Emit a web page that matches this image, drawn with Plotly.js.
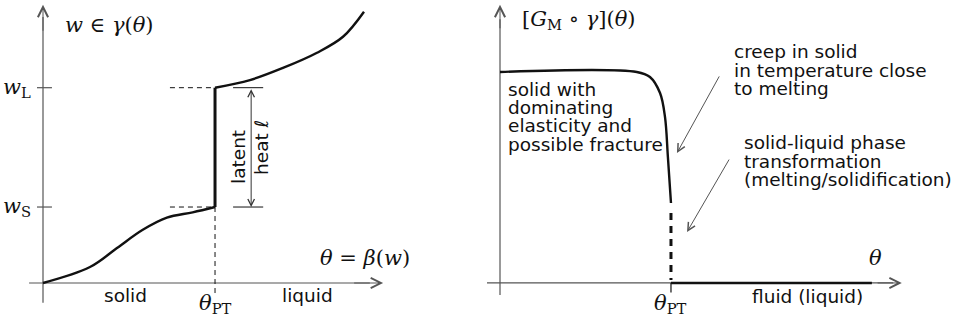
<!DOCTYPE html>
<html>
<head>
<meta charset="utf-8">
<script src="https://cdn.plot.ly/plotly-3.0.1.min.js"></script>
<style>
  html, body { margin: 0; padding: 0; background: #fff; }
  #plot { width: 963px; height: 322px; }
</style>
</head>
<body>
<div id="plot"></div>
<script>
// left panel: enthalpy w against temperature theta (theta_PT = 1, w_S = 1)
const thetaPT = 1;
const wS = 1;
const wL = 2.57;
const solidTheta = [0, 0.273, 0.43, 0.58, 0.72, 0.87, 1];
const solidW = [0, 0.21, 0.46, 0.70, 0.86, 0.93, 1];
const liquidTheta = [1, 1.203, 1.395, 1.593, 1.744, 1.866];
const liquidW = [2.57, 2.67, 2.83, 3.03, 3.24, 3.57];

// right panel: shear modulus G_M against theta (plateau = 1)
const gTheta = [0, 0.80, 0.877, 0.936, 0.965, 0.982, 1];
const gValue = [1, 1, 0.976, 0.90, 0.787, 0.597, 0.379];
const fluidTheta = [1, 2.175];
const fluidValue = [0, 0];
const transitionDash = [0.332, 0.014];

const leftLabels = { solid: "solid", liquid: "liquid" };
// each note: first line position, then its lines
const rightNotes = [
    { x: 0.035, y: 0.919, lines: ["solid with", "dominating", "elasticity and", "possible fracture"] },
    { x: 1.358, y: 1.095, lines: ["creep in solid", "in temperature close", "to melting"] },
    { x: 1.416, y: 0.664, lines: ["solid-liquid phase", "transformation", "(melting/solidification)"] }
];
const noteStep = 0.0875; // line spacing in y2 units (about 18.5px)

const ink = "#111";
const axisGray = "#555";
const sans = "DejaVu Sans, sans-serif";
const serif = "DejaVu Serif, serif";

function line(x, y, xa, ya, width, color, dash, shape) {
    return {
        x: x, y: y, xaxis: xa, yaxis: ya,
        type: "scatter", mode: "lines",
        line: { color: color, width: width, dash: dash || "solid", shape: shape || "linear", smoothing: 1 },
        hoverinfo: "skip", showlegend: false
    };
}

const traces = [
    // left axes
    line([0, 0], [-0.26, 3.5], "x", "y", 1.2, axisGray),
    line([-0.081, 1.9], [0, 0], "x", "y", 1.2, axisGray),
    // y ticks
    line([-0.035, 0.052], [wL, wL], "x", "y", 1.2, axisGray),
    line([-0.035, 0.052], [wS, wS], "x", "y", 1.2, axisGray),
    // curve
    line(solidTheta, solidW, "x", "y", 2.4, ink, "solid", "spline"),
    line([thetaPT, thetaPT], [wS, wL], "x", "y", 3, ink),
    line(liquidTheta, liquidW, "x", "y", 2.4, ink, "solid", "spline"),
    // dashed guides
    line([0.738, thetaPT], [wL, wL], "x", "y", 1, ink, "5px,4px"),
    line([0.738, thetaPT], [wS, wS], "x", "y", 1, ink, "5px,4px"),
    line([thetaPT, thetaPT], [wS, -0.16], "x", "y", 1, ink, "5px,4px"),
    // latent heat bracket
    line([1.105, 1.28], [wL, wL], "x", "y", 1, ink),
    line([1.105, 1.28], [wS, wS], "x", "y", 1, ink),

    // right axes
    line([0, 0], [-0.057, 1.25], "x2", "y2", 1.2, axisGray),
    line([-0.076, 2.3], [0, 0], "x2", "y2", 1.2, axisGray),
    line([thetaPT, thetaPT], [0, -0.045], "x2", "y2", 1.2, ink),
    // curve
    line(gTheta, gValue, "x2", "y2", 2.4, ink, "solid", "spline"),
    line([thetaPT, thetaPT], transitionDash, "x2", "y2", 3, ink, "7px,6px"),
    line(fluidTheta, fluidValue, "x2", "y2", 2.6, ink)
];

function arrow(xa, ya, x, y, ax, ay, size, color, side) {
    return {
        xref: xa, yref: ya, axref: xa, ayref: ya,
        x: x, y: y, ax: ax, ay: ay, text: "",
        showarrow: true, arrowhead: 5, arrowsize: size, arrowwidth: 1,
        arrowcolor: color, arrowside: side || "end", standoff: 0, startstandoff: 0
    };
}

function label(xa, ya, x, y, text, opts) {
    return Object.assign({
        xref: xa, yref: ya, x: x, y: y, text: text, showarrow: false,
        xanchor: "center", yanchor: "middle",
        font: { family: sans, size: 18.5, color: ink }
    }, opts || {});
}

const mathFont = { family: serif, size: 21, color: ink };

const annotations = [
    // axis arrow heads
    arrow("x", "y", 0, 3.66, 0, 3.3, 2, axisGray),
    arrow("x", "y", 1.977, 0, 1.8, 0, 2, axisGray),
    arrow("x2", "y2", 0, 1.318, 0, 1.2, 2, axisGray),
    arrow("x2", "y2", 2.35, 0, 2.2, 0, 2, axisGray),
    // latent heat double arrow
    arrow("x", "y", 1.21, wS, 1.21, wL, 1.3, "#333", "end+start"),
    // pointers
    arrow("x2", "y2", 1.035, 0.616, 1.287, 0.986, 1.5, axisGray),
    arrow("x2", "y2", 1.094, 0.242, 1.345, 0.592, 1.5, axisGray),

    // left texts
    label("x", "y", 0.116, 3.39, "<i>w</i> ∈ <i>γ</i>(<i>θ</i>)", { xanchor: "left", font: mathFont }),
    label("x", "y", 2.145, 0.33, "<i>θ</i> = <i>β</i>(<i>w</i>)", { xanchor: "right", font: mathFont }),
    label("x", "y", -0.058, wL, "<i>w</i><sub>L</sub>", { xanchor: "right", font: mathFont }),
    label("x", "y", -0.058, wS, "<i>w</i><sub>S</sub>", { xanchor: "right", font: mathFont }),
    label("x", "y", 0.477, -0.17, leftLabels.solid),
    label("x", "y", 1.535, -0.17, leftLabels.liquid),
    label("x", "y", thetaPT, -0.27, "<i>θ</i><sub>PT</sub>", { font: mathFont }),
    label("x", "y", 1.14, 1.66, "latent", { textangle: -90 }),
    label("x", "y", 1.273, 1.79, "heat <i>ℓ</i>", { textangle: -90 }),

    // right texts
    label("x2", "y2", 0.117, 1.246, "[<i>G</i><sub>M</sub> ∘ <i>γ</i>](<i>θ</i>)", { xanchor: "left", font: mathFont }),
    label("x2", "y2", 2.199, 0.118, "<i>θ</i>", { font: mathFont }),
    label("x2", "y2", thetaPT, -0.1, "<i>θ</i><sub>PT</sub>", { font: mathFont }),
    label("x2", "y2", 1.80, -0.062, "fluid (liquid)")
];

rightNotes.forEach(function (note) {
    note.lines.forEach(function (txt, i) {
        annotations.push(label("x2", "y2", note.x, note.y - i * noteStep, txt, { xanchor: "left" }));
    });
});

const hidden = { visible: false, fixedrange: true, showgrid: false, zeroline: false };

const layout = {
    width: 963, height: 322,
    margin: { l: 0, r: 0, t: 0, b: 0, pad: 0 },
    paper_bgcolor: "#fff", plot_bgcolor: "#fff",
    showlegend: false,
    xaxis: Object.assign({ domain: [0, 450 / 963], range: [-0.25, 2.366] }, hidden),
    yaxis: Object.assign({ domain: [0, 1], range: [-0.513, 3.724] }, hidden),
    xaxis2: Object.assign({ domain: [480 / 963, 1], range: [-0.117, 2.708], anchor: "y2" }, hidden),
    yaxis2: Object.assign({ domain: [0, 1], range: [-0.185, 1.341], anchor: "x2" }, hidden),
    annotations: annotations
};

Plotly.newPlot("plot", traces, layout, { staticPlot: true, displayModeBar: false });
</script>
</body>
</html>
